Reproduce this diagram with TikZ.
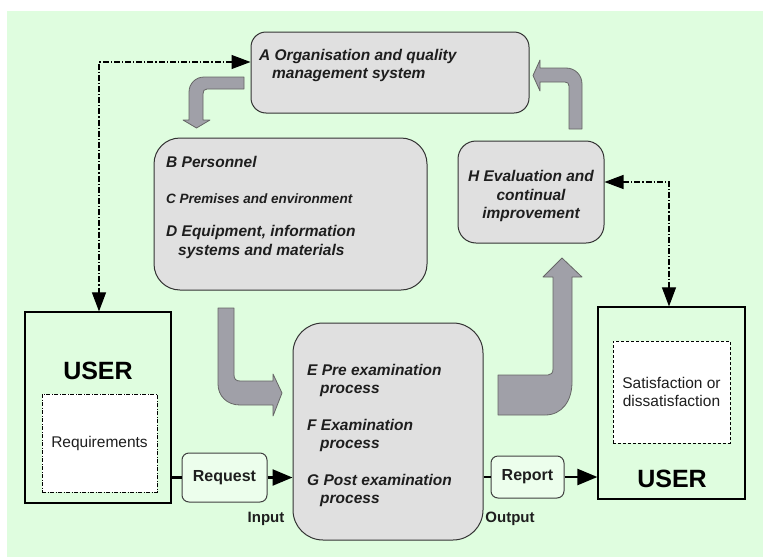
\documentclass[tikz,border=0pt]{standalone}
\usepackage{fontspec}
\setmainfont{Liberation Sans}
\usetikzlibrary{arrows.meta}
\definecolor{bg}{HTML}{DFFDDF}
\definecolor{boxfill}{HTML}{E0E0E0}
\definecolor{arrfill}{HTML}{A0A0A8}
\definecolor{txt}{HTML}{1E1E1E}
\tikzset{
  grbox/.style={draw=black!80, fill=boxfill, line width=1pt, rounded corners=#1, inner sep=0pt},
  userbox/.style={draw=black, line width=1.2pt, inner sep=0pt},
  smallbox/.style={draw=black!75, fill=bg!60!white, line width=1pt, rounded corners=7pt, inner sep=0pt, font=\fontsize{16}{18}\selectfont\bfseries, text=txt},
  lbl/.style={inner sep=0pt, text=txt, align=left, font=\fontsize{15.5}{18}\selectfont\bfseries\itshape},
  ddline/.style={line width=1.1pt, dash pattern=on 6pt off 2pt on 1.2pt off 2pt},
  blkarrow/.style={fill=arrfill, draw=black!60, line width=0.8pt, line join=round},
  solidarrow/.style={line width=2.4pt},
  bigtip/.style={-{Triangle[length=20pt,width=16pt]}},
  ddtips/.style={{Triangle[length=19pt,width=14pt]}-{Triangle[length=19pt,width=14pt]}},
}
\begin{document}
\begin{tikzpicture}[x=1pt,y=-1pt]
\useasboundingbox (0,0) rectangle (763,557);
\fill[white] (0,0) rectangle (763,557);
\fill[bg] (7,11) rectangle (763,557);

% grey boxes
\node[grbox=15pt, minimum width=278pt, minimum height=81pt] (A) at (390,72.5) {};
\node[grbox=26pt, minimum width=273pt, minimum height=152pt] (B) at (290.5,214) {};
\node[grbox=18pt, minimum width=146pt, minimum height=102pt] (H) at (531,192) {};
\node[grbox=30pt, minimum width=190pt, minimum height=217pt] (EFG) at (388,431.5) {};

% texts in grey boxes
\node[lbl, anchor=north west] (Atxt) at (259,49) {A Organisation and quality\\\hspace*{13pt}management system};
\node[lbl, anchor=north west] (Btxt) at (166,156) {B Personnel};
\node[lbl, anchor=north west, font=\fontsize{13.5}{15}\selectfont\bfseries\itshape] (Ctxt) at (166,193.5) {C Premises and environment};
\node[lbl, anchor=north west, font=\fontsize{15.5}{19}\selectfont\bfseries\itshape] (Dtxt) at (166,225) {D Equipment, information\\\hspace*{12pt}systems and materials};
\node[lbl, align=center, font=\fontsize{15.5}{18.5}\selectfont\bfseries\itshape] (Htxt) at (531,196) {H Evaluation and\\continual\\improvement};
\node[lbl, anchor=north west, font=\fontsize{15.5}{18.5}\selectfont\bfseries\itshape] (Etxt) at (307,364) {E Pre examination\\\hspace*{13pt}process};
\node[lbl, anchor=north west, font=\fontsize{15.5}{18.5}\selectfont\bfseries\itshape] (Ftxt) at (307,419) {F Examination\\\hspace*{13pt}process};
\node[lbl, anchor=north west, font=\fontsize{15.5}{18.5}\selectfont\bfseries\itshape] (Gtxt) at (307,474) {G Post examination\\\hspace*{13pt}process};

% user boxes
\node[userbox, minimum width=146pt, minimum height=191pt] (UL) at (98,407.5) {};
\node[userbox, minimum width=147pt, minimum height=192pt] (UR) at (671.5,403) {};
\node[inner sep=0pt, text=black, font=\fontsize{25}{28}\selectfont\bfseries] (ULt) at (98,371) {USER};
\node[inner sep=0pt, text=black, font=\fontsize{25}{28}\selectfont\bfseries] (URt) at (672,479) {USER};
\node[draw=black, fill=white, line width=1pt, dash pattern=on 4pt off 1.5pt on 1pt off 1.5pt, minimum width=115pt, minimum height=98pt, inner sep=0pt, font=\fontsize{15.5}{17}\selectfont, text=txt] (Req) at (99.5,443) {Requirements};
\node[draw=black, fill=white, line width=1pt, dash pattern=on 3pt off 2pt, minimum width=117pt, minimum height=102pt, inner sep=0pt, align=center, font=\fontsize{15.5}{18}\selectfont, text=txt] (Sat) at (671.5,392) {Satisfaction or\\dissatisfaction};

% request / report
\node[smallbox, minimum width=85pt, minimum height=49pt] (Rq) at (224.5,477.5) {Request};
\node[smallbox, minimum width=73pt, minimum height=42pt] (Rp) at (527.5,477) {Report};
\node[inner sep=0pt, text=txt, font=\fontsize{15}{18}\selectfont\bfseries] (In) at (266,519) {Input};
\node[inner sep=0pt, text=txt, font=\fontsize{15}{18}\selectfont\bfseries] (Out) at (510,519) {Output};

\draw[solidarrow] (UL.east |- Rq) -- (Rq.west);
\draw[solidarrow, bigtip] (Rq.east) -- (EFG.west |- Rq);
\draw[solidarrow] (EFG.east |- Rp) -- (Rp.west);
\draw[solidarrow, bigtip] (Rp.east) -- (UR.west |- Rp);

% dash-dot connectors
\coordinate (cl) at (99,62);
\coordinate (cr) at (669,182);
\draw[ddline, ddtips] (A.west |- cl) -- (cl) -- (cl |- UL.north);
\draw[ddline, ddtips] (H.east |- cr) -- (cr) -- (cr |- UR.north);

% block arrows
% A -> B
\draw[blkarrow] (244,77) -- (204,77) .. controls (195.7,77) and (189,83.7) .. (189,92) -- (189,120) -- (183,120) -- (196.5,128) -- (210,120) -- (203,120) -- (203,94) .. controls (203,91) and (204,89) .. (207,89) -- (244,89) -- cycle;
% H -> A
\draw[blkarrow] (569,129) -- (582,129) -- (582,84) .. controls (582,75) and (575,68) .. (566,68) -- (540,68) -- (540,60) -- (533,75.5) -- (540,91) -- (540,82) -- (565,82) .. controls (567.5,82) and (569,83.5) .. (569,86) -- cycle;
% B -> EFG
\draw[blkarrow] (218,308) -- (234,308) -- (234,375) .. controls (234,379) and (236,381) .. (240,381) -- (273,381) -- (273,374) -- (282,393) -- (273,416) -- (273,405) -- (240,405) .. controls (227,405) and (218,396) .. (218,384) -- cycle;
% EFG -> H
\draw[blkarrow] (498,375) -- (548,375) .. controls (551,375) and (553,373) .. (553,369) -- (553,277) -- (543,277) -- (562,258) -- (582,277) -- (572,277) -- (572,382) .. controls (572,401) and (562,415) .. (545,415) -- (498,415) -- cycle;
\end{tikzpicture}
\end{document}
